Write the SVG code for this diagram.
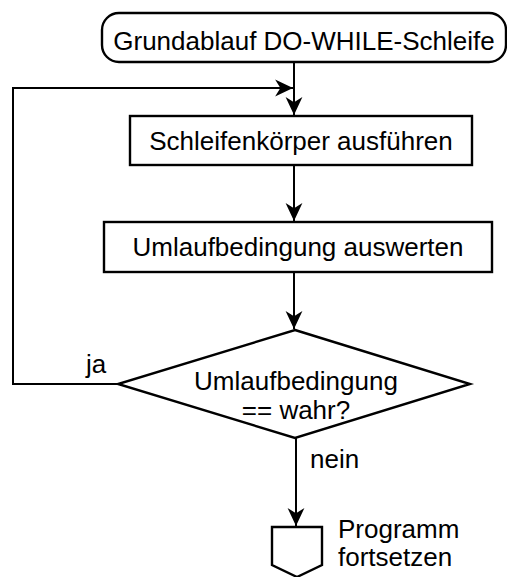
<svg xmlns="http://www.w3.org/2000/svg" width="507" height="577" viewBox="0 0 507 577">
  <style>
    .shape { fill: #ffffff; stroke: #000000; stroke-width: 2.4; }
    .flow { fill: none; stroke: #000000; stroke-width: 2; }
    text { font-family: "Liberation Sans", Arial, sans-serif; font-size: 26px; fill: #000000; }
    .mid { text-anchor: middle; }
  </style>
  <defs>
    <marker id="arrow" markerUnits="userSpaceOnUse" markerWidth="20" markerHeight="20" viewBox="-18 -9 19 18" refX="0" refY="0" orient="auto">
      <path d="M0,0 L-17,-8 L-12,0 L-17,8 Z" fill="#000000"/>
    </marker>
  </defs>

  <!-- connectors -->
  <g id="connectors">
    <path class="flow" d="M294,62 V115" marker-end="url(#arrow)"/>
    <path class="flow" d="M118,384 H13 V88 H293" marker-end="url(#arrow)"/>
    <path class="flow" d="M294,165 V221" marker-end="url(#arrow)"/>
    <path class="flow" d="M294,272 V329" marker-end="url(#arrow)"/>
    <path class="flow" d="M296,438 V526" marker-end="url(#arrow)"/>
    <text x="86" y="373">ja</text>
    <text x="310" y="468">nein</text>
  </g>

  <!-- start terminal -->
  <g id="start">
    <rect class="shape" x="102" y="13" width="404" height="49" rx="17" ry="17"/>
    <text class="mid" x="304" y="50">Grundablauf DO-WHILE-Schleife</text>
  </g>

  <!-- loop body -->
  <g id="body">
    <rect class="shape" x="130" y="116" width="342" height="49"/>
    <text class="mid" x="301" y="150">Schleifenkörper ausführen</text>
  </g>

  <!-- evaluate condition -->
  <g id="evaluate">
    <rect class="shape" x="104" y="222" width="388" height="50"/>
    <text class="mid" x="298" y="256">Umlaufbedingung auswerten</text>
  </g>

  <!-- decision -->
  <g id="decision">
    <polygon class="shape" points="295,330 470,384 295,438 118,384"/>
    <text class="mid" x="296" y="390">Umlaufbedingung</text>
    <text class="mid" x="296" y="419">== wahr?</text>
  </g>

  <!-- off-page connector -->
  <g id="continue">
    <polygon class="shape" points="272,527 322,527 322,565 297,577 272,565"/>
    <text x="338" y="538">Programm</text>
    <text x="338" y="566">fortsetzen</text>
  </g>
</svg>
